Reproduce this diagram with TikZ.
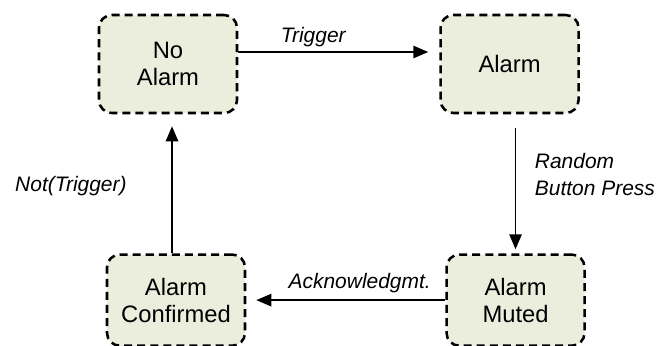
\documentclass[tikz,border=0pt]{standalone}
\usepackage{fontspec}
\setmainfont{Liberation Sans}
\usetikzlibrary{arrows.meta,positioning}
\definecolor{statefill}{HTML}{EBEEDD}

\begin{document}
\begin{tikzpicture}[
    every node/.style={font=\fontsize{16.9}{19.3}\selectfont},
    state/.style={draw, line width=1.8pt, dash pattern=on 5.7pt off 3.6pt, rounded corners=0.32cm, fill=statefill, align=center, minimum width=3.45cm, minimum height=2.45cm},
    lowstate/.style={state, minimum height=2.28cm},
    flow/.style={-{Triangle[length=3.75mm, width=3.1mm]}, line width=1.05pt},
    cond/.style={font=\fontsize{14.9}{18.6}\selectfont\itshape, align=left}
]
\useasboundingbox (0,0) rectangle (16.4,-8.625);
\node[state] (noalarm) at (4.2,-1.6) {No\\Alarm};
\node[state, right=5.025cm of noalarm] (alarm) {Alarm};
\node[lowstate, below=3.475cm of noalarm, xshift=0.2cm] (confirmed) {Alarm\\Confirmed};
\node[lowstate, right=4.975cm of confirmed] (muted) {Alarm\\Muted};
\path (alarm.south -| muted.north) ++(0,-0.35) coordinate (pressstart);
\path (confirmed.north) ++(-0.1,0) coordinate (notstart);
\draw[flow, shorten >=0.275cm] ([yshift=0.3cm]noalarm.east) -- ([yshift=0.3cm]alarm.west)
    node[cond, anchor=base, pos=0.373, yshift=0.25cm] (trigger) {Trigger};
\draw[flow, shorten >=0.1cm] (pressstart) -- (muted.north)
    node[cond, right=3.5mm, pos=0.37] (press) {Random\\Button Press};
\draw[flow, shorten >=0.25cm] (muted.west) -- (muted.west -| confirmed.east)
    node[cond, anchor=base, pos=0.43, yshift=0.3cm] (ack) {Acknowledgmt.};
\draw[flow, shorten >=0.3cm] (notstart) -- (notstart |- noalarm.south)
    node[cond, left=1cm, pos=0.48] (nottrigger) {Not(Trigger)};
\end{tikzpicture}
\end{document}
